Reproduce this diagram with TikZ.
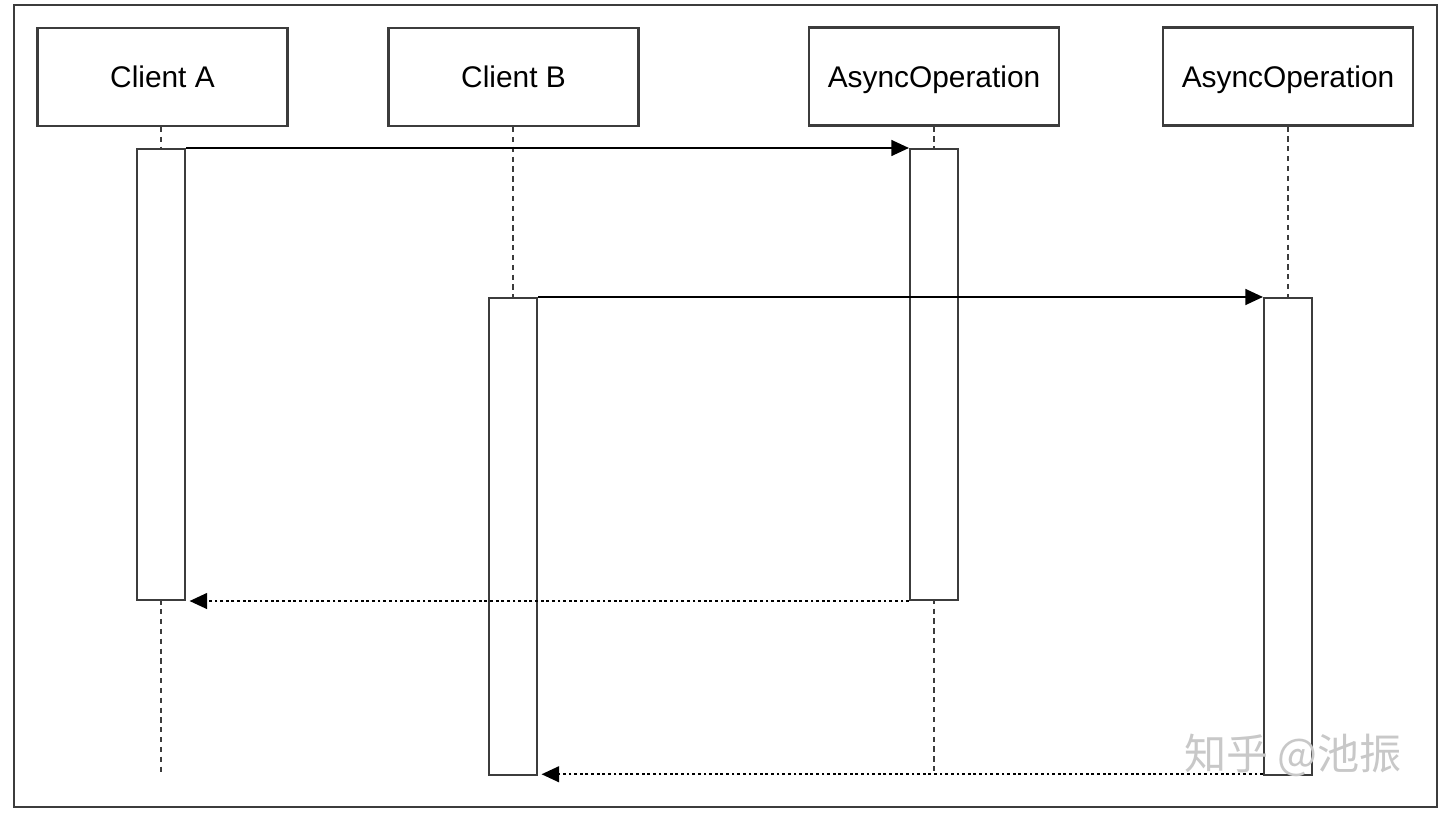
\documentclass[tikz,border=0pt]{standalone}
\usepackage{fontspec}
\setmainfont{Liberation Sans}
\newfontfamily\cjkfont{Noto Sans CJK SC}
\usepackage{xcolor}
\usepackage{tikz}
\usetikzlibrary{arrows.meta, positioning, calc}
\definecolor{lineink}{RGB}{60, 60, 60}
\definecolor{markgray}{RGB}{200, 200, 200}

\tikzset{
    party/.style={draw=lineink, line width=1.2pt, fill=white, minimum width=5.0cm, minimum height=1.96cm, inner sep=0pt, text height=12.2pt, text depth=0pt, font=\fontsize{17}{20}\selectfont},
    activebar/.style={draw=lineink, line width=1.2pt, fill=white, minimum width=0.96cm, inner sep=0pt},
    lifeline/.style={lineink, line width=1.2pt, dash pattern=on 3pt off 2.6pt},
    callmsg/.style={black, line width=1.1pt, -{Triangle[length=10pt, width=9pt]}},
    replymsg/.style={black, line width=1.1pt, dash pattern=on 1.6pt off 1.6pt, -{Triangle[length=10pt, width=9pt]}}
}

\begin{document}
\begin{tikzpicture}[x=0.02cm, y=-0.02cm]
    \useasboundingbox (0,0) rectangle (1444,815);
    % Outer frame
    \draw[lineink, line width=1.3pt] (14,5) rectangle (1437,807);

    % Participants
    \node[party] (clientA) at (162.5,77) {Client A};
    \node[party] (clientB) at (513.5,77) {Client B};
    \node[party] (asyncA) at (934,76.5) {AsyncOperation};
    \node[party] (asyncB) at (1288,76.5) {AsyncOperation};

    % Lifeline ends
    \coordinate (endA) at (161,772);
    \coordinate (endB) at (513,775);
    \coordinate (endC) at (934,772);
    \coordinate (endD) at (1288,775);

    % Lifelines
    \draw[lifeline] (clientA.south -| endA) -- (endA);
    \draw[lifeline] (clientB.south -| endB) -- (endB);
    \draw[lifeline] (asyncA.south -| endC) -- (endC);
    \draw[lifeline] (asyncB.south -| endD) -- (endD);

    % Activation bars
    \node[activebar, minimum height=9.02cm] (barA) at (161,374.5) {};
    \node[activebar, minimum height=9.54cm] (barB) at (513,536.5) {};
    \node[activebar, minimum height=9.02cm] (barC) at (934,374.5) {};
    \node[activebar, minimum height=9.54cm] (barD) at (1288,536.5) {};

    % Calls
    \draw[callmsg] (barA.north east) -- (barC.north west);
    \draw[callmsg] (barB.north east) -- (barD.north west);

    % Replies
    \draw[replymsg] (barC.south west) -- ([xshift=2pt]barA.south east);
    \draw[replymsg] ([yshift=1pt]barD.south west) -- ([xshift=2pt, yshift=1pt]barB.south east);

    % Watermark
    \node[markgray, font=\cjkfont\fontsize{24}{27}\selectfont, anchor=center] (mark) at (1293,755) {知乎 @池振};
\end{tikzpicture}
\end{document}
